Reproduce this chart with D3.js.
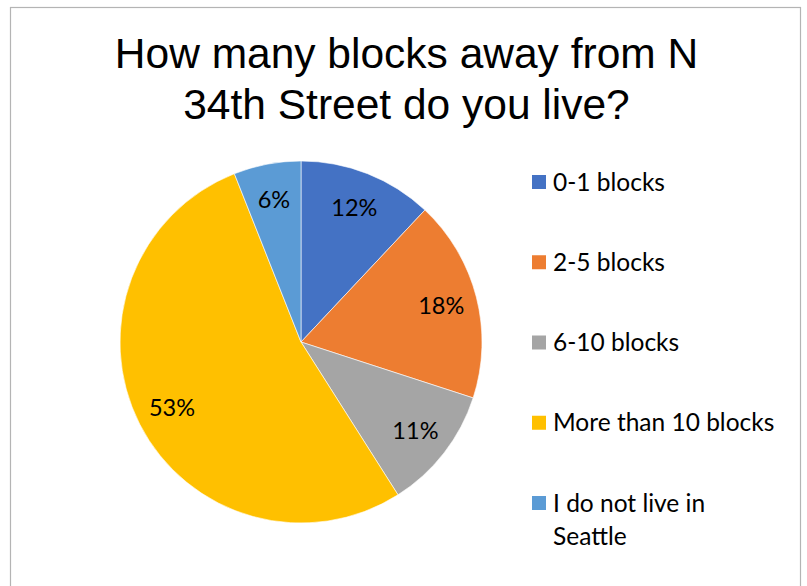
<!DOCTYPE html>
<html>
<head>
<meta charset="utf-8">
<script src="https://cdn.jsdelivr.net/npm/d3@7"></script>
<style>
  html, body { margin: 0; padding: 0; background: #fff; }
  svg { display: block; }
</style>
</head>
<body>
<svg id="chart" width="807" height="586"></svg>
<script>
// Survey answers: distance from N 34th Street
const categories = ["0-1 blocks", "2-5 blocks", "6-10 blocks", "More than 10 blocks", "I do not live in Seattle"];
const shares = [12, 18, 11, 53, 6];
const sliceColors = ["#4472C4", "#ED7D31", "#A5A5A5", "#FFC000", "#5B9BD5"];
const titleLines = ["How many blocks away from N", "34th Street do you live?"];
const legendLines = [["0-1 blocks"], ["2-5 blocks"], ["6-10 blocks"], ["More than 10 blocks"], ["I do not live in", "Seattle"]];

const W = 807, H = 586;
const svg = d3.select("#chart");
const bodyFont = "Lato, 'Open Sans', sans-serif";

// Chart frame
svg.append("rect")
  .attr("x", 10.5).attr("y", 7.5)
  .attr("width", 790).attr("height", H + 20)
  .attr("fill", "#fff")
  .attr("stroke", "#b4b4b4")
  .attr("stroke-width", 1.2);

// Title
const title = svg.append("text")
  .attr("text-anchor", "middle")
  .attr("font-family", "'Liberation Sans', Arial, sans-serif")
  .attr("font-size", 42.5)
  .attr("fill", "#000");
titleLines.forEach((line, i) => {
  title.append("tspan")
    .attr("x", 406.5)
    .attr("y", 67.5 + i * 51.5)
    .text(line);
});

// Pie
const cx = 301, cy = 342, radius = 181;
const g = svg.append("g").attr("transform", `translate(${cx},${cy})`);
const pie = d3.pie().sort(null).value(d => d.value);
const data = pie(categories.map((c, i) => ({ name: c, value: shares[i], color: sliceColors[i] })));
const arc = d3.arc().innerRadius(0).outerRadius(radius);
const labelArc = d3.arc().innerRadius(radius * 0.8).outerRadius(radius * 0.8);

g.selectAll("path.slice")
  .data(data)
  .join("path")
  .attr("class", "slice")
  .attr("d", arc)
  .attr("fill", d => d.data.color)
  .attr("stroke", "#fff")
  .attr("stroke-width", 0.6);

g.selectAll("text.pct")
  .data(data)
  .join("text")
  .attr("class", "pct")
  .attr("transform", d => `translate(${labelArc.centroid(d)})`)
  .attr("text-anchor", "middle")
  .attr("dy", "0.35em")
  .attr("font-family", bodyFont)
  .attr("font-size", 23.5)
  .attr("fill", "#000")
  .text(d => d.data.value + "%");

// Legend
const legend = svg.append("g");
const rowY = d3.scaleLinear().domain([0, categories.length - 1]).range([182, 503]);
categories.forEach((c, i) => {
  const y = rowY(i);
  legend.append("rect")
    .attr("x", 532).attr("y", y - 7)
    .attr("width", 14).attr("height", 14)
    .attr("fill", sliceColors[i]);
  const t = legend.append("text")
    .attr("font-family", bodyFont)
    .attr("font-size", 24.5)
    .attr("fill", "#000");
  legendLines[i].forEach((line, j) => {
    t.append("tspan")
      .attr("x", 553)
      .attr("y", y + 8.5 + j * 33)
      .text(line);
  });
});
</script>
</body>
</html>
